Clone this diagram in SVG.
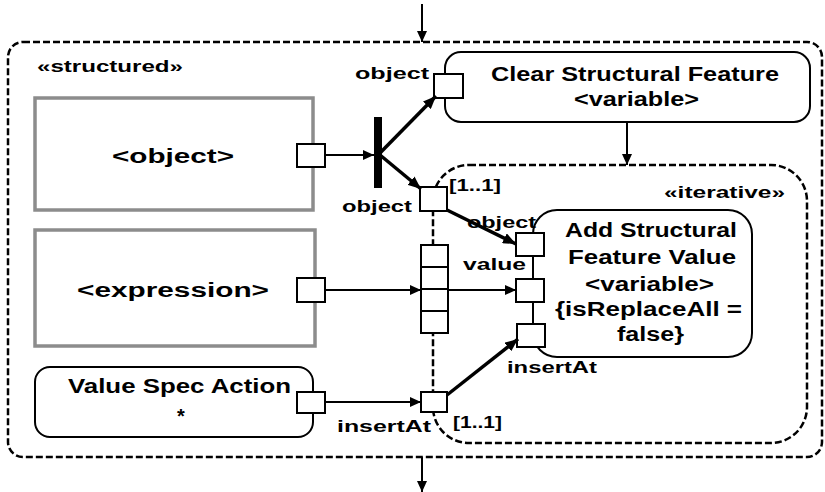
<svg xmlns="http://www.w3.org/2000/svg" width="825" height="492" viewBox="0 0 825 492">
<defs>
<style>
text{font-family:"Liberation Sans",Arial,sans-serif;font-weight:bold;fill:#000}
.t20{font-size:20px}
.t17{font-size:17px}
.t16{font-size:16px}
.mid{text-anchor:middle}
.pin{fill:#fff;stroke:#000;stroke-width:2}
.act{fill:#fff;stroke:#000;stroke-width:2}
.obj{fill:#fff;stroke:#8c8c8c;stroke-width:3.5}
.region{fill:none;stroke:#000;stroke-width:2.5;stroke-dasharray:7 3}
.flow{fill:none;stroke:#000;stroke-width:2}
.thick{fill:none;stroke:#000;stroke-width:3.5}
</style>
<marker id="arr" markerUnits="userSpaceOnUse" markerWidth="11" markerHeight="10" refX="11" refY="5" orient="auto">
<path d="M0,0 L11,5 L0,10 z" fill="#000"/>
</marker>
<marker id="arrT" markerUnits="userSpaceOnUse" markerWidth="13" markerHeight="11" refX="13" refY="5.5" orient="auto">
<path d="M0,0 L13,5.5 L0,11 z" fill="#000"/>
</marker>
</defs>
<rect width="825" height="492" fill="#fff"/>

<g id="structured">
<rect class="region" x="8" y="42" width="814" height="415" rx="15"/>
<text class="t16" x="37" y="72" textLength="146" lengthAdjust="spacingAndGlyphs">«structured»</text>
</g>

<g id="iterative">
<rect class="region" x="433" y="165" width="374" height="278" rx="36"/>
<text class="t16" x="664" y="198" textLength="121" lengthAdjust="spacingAndGlyphs">«iterative»</text>
</g>

<g id="objectNode">
<rect class="obj" x="35" y="98" width="278" height="112"/>
<text class="t20" x="112" y="163" textLength="122" lengthAdjust="spacingAndGlyphs">&lt;object&gt;</text>
<rect class="pin" x="297" y="144" width="28" height="23"/>
</g>

<g id="expressionNode">
<rect class="obj" x="35" y="230" width="280" height="116"/>
<text class="t20" x="77" y="297" textLength="192" lengthAdjust="spacingAndGlyphs">&lt;expression&gt;</text>
<rect class="pin" x="297" y="278" width="28" height="24"/>
</g>

<g id="valueSpecAction">
<rect class="act" x="35" y="367" width="278" height="70" rx="15"/>
<text class="t20" x="68" y="393" textLength="223" lengthAdjust="spacingAndGlyphs">Value Spec Action</text>
<text class="t20 mid" x="181" y="423">*</text>
<rect class="pin" x="297" y="392" width="28" height="21"/>
</g>

<g id="fork">
<rect x="374" y="117" width="8" height="71" fill="#000"/>
</g>

<g id="clearStructuralFeature">
<rect class="act" x="445" y="52" width="365" height="70" rx="16"/>
<text class="t20" x="491" y="81" textLength="288" lengthAdjust="spacingAndGlyphs">Clear Structural Feature</text>
<text class="t20" x="574" y="106" textLength="125" lengthAdjust="spacingAndGlyphs">&lt;variable&gt;</text>
<rect class="pin" x="434" y="74" width="29" height="24"/>
<text class="t17" x="355" y="79" textLength="74" lengthAdjust="spacingAndGlyphs">object</text>
</g>

<g id="addStructuralFeatureValue">
<rect class="act" x="533" y="210" width="219" height="147" rx="24"/>
<text class="t20" x="565" y="237" textLength="172" lengthAdjust="spacingAndGlyphs">Add Structural</text>
<text class="t20" x="568" y="264" textLength="168" lengthAdjust="spacingAndGlyphs">Feature Value</text>
<text class="t20" x="585" y="291" textLength="129" lengthAdjust="spacingAndGlyphs">&lt;variable&gt;</text>
<text class="t20" x="555" y="316" textLength="187" lengthAdjust="spacingAndGlyphs">{isReplaceAll =</text>
<text class="t20" x="617" y="341" textLength="67" lengthAdjust="spacingAndGlyphs">false}</text>
<rect class="pin" x="516" y="233" width="28" height="23"/>
<rect class="pin" x="516" y="279" width="28" height="23"/>
<rect class="pin" x="517" y="324" width="28" height="23"/>
<text class="t17" x="467" y="228" textLength="69" lengthAdjust="spacingAndGlyphs">object</text>
<text class="t17" x="463" y="270" textLength="63" lengthAdjust="spacingAndGlyphs">value</text>
<text class="t17" x="507" y="373" textLength="90" lengthAdjust="spacingAndGlyphs">insertAt</text>
</g>

<g id="regionObjectPin">
<rect class="pin" x="420" y="187" width="27" height="24"/>
<text class="t17" x="342" y="212" textLength="70" lengthAdjust="spacingAndGlyphs">object</text>
<text class="t17" x="449" y="191" textLength="52" lengthAdjust="spacingAndGlyphs">[1..1]</text>
</g>

<g id="expansionNode">
<rect class="pin" x="421" y="245" width="27" height="88"/>
<path d="M421,267 H448 M421,289 H448 M421,311 H448" stroke="#000" stroke-width="2"/>
</g>

<g id="regionInsertAtPin">
<rect class="pin" x="421" y="392" width="26" height="20"/>
<text class="t17" x="337" y="432" textLength="94" lengthAdjust="spacingAndGlyphs">insertAt</text>
<text class="t17" x="453" y="428" textLength="49" lengthAdjust="spacingAndGlyphs">[1..1]</text>
</g>

<g id="connectors">
<line class="flow" x1="422" y1="4" x2="422" y2="42" marker-end="url(#arr)"/>
<line class="flow" x1="422" y1="457" x2="422" y2="492" marker-end="url(#arr)"/>
<line class="flow" x1="325" y1="155" x2="374" y2="155" marker-end="url(#arr)"/>
<line class="thick" x1="380" y1="153" x2="436" y2="96" marker-end="url(#arrT)"/>
<line class="thick" x1="380" y1="155" x2="421" y2="189" marker-end="url(#arrT)"/>
<line class="thick" x1="447" y1="210" x2="516" y2="244" marker-end="url(#arrT)"/>
<line class="flow" x1="325" y1="290" x2="421" y2="290" marker-end="url(#arr)"/>
<line class="flow" x1="448" y1="290" x2="516" y2="290" marker-end="url(#arr)"/>
<line class="flow" x1="325" y1="402" x2="421" y2="402" marker-end="url(#arr)"/>
<line class="thick" x1="447" y1="395" x2="518" y2="339" marker-end="url(#arrT)"/>
<line class="flow" x1="627" y1="122" x2="627" y2="165" stroke-width="2.5" marker-end="url(#arr)"/>
</g>
</svg>
